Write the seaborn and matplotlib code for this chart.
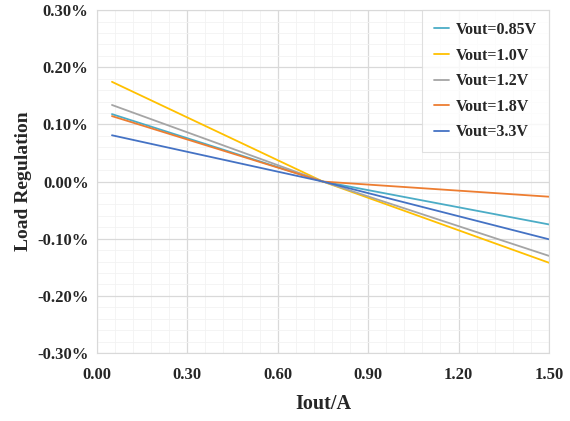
"""Load regulation vs output current for several output voltages."""
import matplotlib
matplotlib.use("Agg")
import matplotlib.pyplot as plt
from matplotlib.ticker import FuncFormatter, MultipleLocator
import pandas as pd
import seaborn as sns

# measured points (Iout in A, regulation in %)
iout = [0.05, 0.75, 1.50]
series = ["Vout=0.85V", "Vout=1.0V", "Vout=1.2V", "Vout=1.8V", "Vout=3.3V"]
reg_085 = [0.118, 0.0, -0.075]
reg_100 = [0.1745, 0.0, -0.142]
reg_120 = [0.134, 0.0, -0.130]
reg_180 = [0.1145, 0.0, -0.0265]
reg_330 = [0.081, 0.0, -0.101]
colors = ["#4BACC6", "#FFC000", "#A5A5A5", "#ED7D31", "#4472C4"]

rows = []
for name, vals in zip(series, [reg_085, reg_100, reg_120, reg_180, reg_330]):
    for x, v in zip(iout, vals):
        rows.append({"Iout": x, "reg": v, "series": name})
df = pd.DataFrame(rows)

sns.set_style("white")
plt.rcParams["font.family"] = ["Liberation Serif", "DejaVu Serif"]
plt.rcParams["font.weight"] = "bold"

fig = plt.figure(figsize=(5.7, 4.21), dpi=100)
ax = fig.add_axes([0.170, 0.1615, 0.793, 0.8145])

sns.lineplot(data=df, x="Iout", y="reg", hue="series", hue_order=series,
             palette=colors, linewidth=1.3, ax=ax)

ax.set_xlim(0, 1.5)
ax.set_ylim(-0.3, 0.3)
ax.xaxis.set_major_locator(MultipleLocator(0.30))
ax.xaxis.set_minor_locator(MultipleLocator(0.06))
ax.yaxis.set_major_locator(MultipleLocator(0.10))
ax.yaxis.set_minor_locator(MultipleLocator(0.02))
ax.xaxis.set_major_formatter(FuncFormatter(lambda v, _: f"{v:.2f}"))
ax.yaxis.set_major_formatter(FuncFormatter(lambda v, _: f"{v:.2f}%"))
ax.grid(which="major", color="#D9D9D9", linewidth=0.9)
ax.grid(which="minor", color="#F2F2F2", linewidth=0.6)
ax.set_axisbelow(True)
for s in ax.spines.values():
    s.set_color("#D9D9D9")
ax.tick_params(which="both", length=0, labelsize=12)
ax.tick_params(axis="x", pad=10)
ax.tick_params(axis="y", pad=6)
for lab in ax.get_xticklabels() + ax.get_yticklabels():
    lab.set_fontweight("bold")

ax.set_xlabel("Iout/A", fontsize=14.5, fontweight="bold", labelpad=8)
ax.set_ylabel("Load Regulation", fontsize=14, fontweight="bold", labelpad=4)

leg = ax.legend(loc="upper right", fontsize=11.5, handlelength=0.9,
                handletextpad=0.45, borderpad=0.75, labelspacing=0.6,
                frameon=True, fancybox=False, borderaxespad=0)
leg.get_frame().set_edgecolor("#D9D9D9")
leg.get_frame().set_linewidth(0.8)
for t in leg.get_texts():
    t.set_fontweight("bold")

fig.savefig("out.png", dpi=100)
